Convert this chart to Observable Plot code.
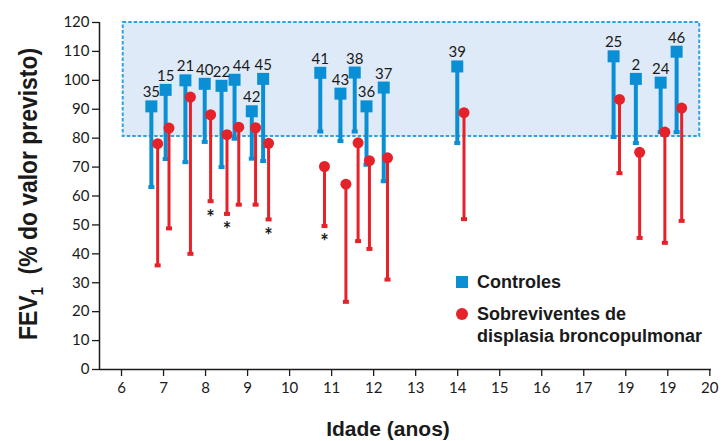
<!DOCTYPE html>
<html>
<head>
<meta charset="utf-8">
<script src="https://cdn.jsdelivr.net/npm/d3@7"></script>
<script src="https://cdn.jsdelivr.net/npm/@observablehq/plot@0.6"></script>
<style>
  html, body { margin: 0; padding: 0; background: #fff; }
  #chart { width: 722px; height: 441px; }
</style>
</head>
<body>
<div id="chart"></div>
<script>
// ---- data ----
const ids      = [35, 15, 21, 40, 22, 44, 42, 45, 41, 43, 38, 36, 37, 39, 25, 2, 24, 46];
const ctrlAge  = [6.71, 7.05, 7.52, 7.98, 8.38, 8.69, 9.10, 9.37, 10.73, 11.21, 11.55, 11.83, 12.24, 13.99, 17.71, 18.24, 18.83, 19.21];
const ctrlFev  = [91.0, 96.7, 100.0, 98.8, 98.1, 100.2, 89.3, 100.5, 102.6, 95.4, 102.7, 91.0, 97.5, 104.8, 108.3, 100.5, 99.2, 109.9];
const ctrlLow  = [63.1, 72.8, 71.7, 78.7, 70.0, 79.8, 72.9, 72.1, 82.3, 79.0, 82.3, 70.8, 65.1, 78.3, 80.4, 78.3, 82.1, 82.1];
const bpdAge   = [6.86, 7.13, 7.64, 8.12, 8.51, 8.79, 9.19, 9.50, 10.83, 11.34, 11.63, 11.90, 12.33, 14.15, 17.85, 18.33, 18.93, 19.33];
const bpdFev   = [78.1, 83.5, 94.2, 88.1, 81.2, 83.8, 83.6, 78.2, 70.2, 64.1, 78.4, 72.2, 73.2, 88.8, 93.4, 75.1, 82.1, 90.4];
const bpdLow   = [36.0, 48.8, 40.0, 58.2, 53.8, 57.0, 57.0, 51.9, 49.6, 23.4, 44.4, 41.7, 31.1, 52.0, 67.9, 45.5, 43.8, 51.4];
const bpdSig   = [false, false, false, true, true, false, false, true, true, false, false, false, false, false, false, false, false, false];
const normalBand = {x1: 6.04, x2: 19.76, y1: 80.6, y2: 120};
const xTicks = [6, 7, 8, 9, 10, 11, 12, 13, 14, 15, 16, 17, 18, 19, 20];
const xTickLabels = ["6", "7", "8", "9", "10", "11", "12", "13", "14", "15", "16", "17", "19", "19", "20"];
const yTicks = [0, 10, 20, 30, 40, 50, 60, 70, 80, 90, 100, 110, 120];
const legendLabels = ["Controles", "Sobreviventes de", "displasia broncopulmonar"];

// ---- tables ----
const ctrl = ids.map((id, i) => ({id, age: ctrlAge[i], fev: ctrlFev[i], low: ctrlLow[i]}));
const bpd = ids.map((id, i) => ({id, age: bpdAge[i], fev: bpdFev[i], low: bpdLow[i], sig: bpdSig[i]}));
const tickLabelMap = new Map(xTicks.map((t, i) => [t, xTickLabels[i]]));

const BLUE = "#0a8fd4";
const RED = "#e52229";
const INK = "#1a1a1a";

const squareSym = {draw(ctx) { ctx.rect(-6, -6, 12, 12); }};
const capSym = {draw(ctx) { ctx.rect(-3, -2, 6, 4); }};

const plot = Plot.plot({
  width: 722,
  height: 441,
  marginLeft: 99,
  marginRight: 11,
  marginTop: 22,
  marginBottom: 72,
  style: {fontFamily: "Lato, 'DejaVu Sans', sans-serif", fontSize: "15px", color: INK, background: "#fff"},
  x: {domain: [5.476, 20.04]},
  y: {domain: [0, 120]},
  marks: [
    Plot.rect([normalBand], {x1: "x1", x2: "x2", y1: "y1", y2: "y2", fill: "#deeaf7", stroke: "#2ea3e2", strokeWidth: 2, strokeDasharray: "3.5,2"}),
    Plot.axisY({ticks: yTicks, tickSize: 7, tickPadding: 3, fontSize: 15, label: null, stroke: INK, strokeWidth: 1.3}),
    Plot.axisX({ticks: xTicks, tickFormat: d => tickLabelMap.get(d), tickSize: 7, tickPadding: 6, fontSize: 15, label: null, stroke: INK, strokeWidth: 1.3}),
    Plot.ruleY([0], {stroke: INK, strokeWidth: 1.5}),
    Plot.ruleX([5.476], {stroke: INK, strokeWidth: 1.5}),
    // controls
    Plot.ruleX(ctrl, {x: "age", y1: "low", y2: "fev", stroke: BLUE, strokeWidth: 4}),
    Plot.dot(ctrl, {x: "age", y: "low", symbol: capSym, fill: BLUE, stroke: "none"}),
    Plot.dot(ctrl, {x: "age", y: "fev", symbol: squareSym, fill: BLUE, stroke: "none"}),
    // bpd survivors
    Plot.ruleX(bpd, {x: "age", y1: "low", y2: "fev", stroke: RED, strokeWidth: 3}),
    Plot.dot(bpd, {x: "age", y: "low", symbol: capSym, fill: RED, stroke: "none"}),
    Plot.dot(bpd, {x: "age", y: "fev", r: 5.5, fill: RED, stroke: "none"}),
    // significance marks
    Plot.text(bpd.filter(d => d.sig), {x: "age", y: "low", text: () => "*", dy: 17, fontSize: 20, fontWeight: "bold", fill: INK, lineAnchor: "middle"}),
    // id labels
    Plot.text(ctrl.filter(d => d.id !== 44), {x: "age", y: "fev", text: d => String(d.id), dy: -9, lineAnchor: "bottom", fontSize: 15, fill: INK}),
    Plot.text(ctrl.filter(d => d.id === 44), {x: "age", y: "fev", text: d => String(d.id), dy: -9, dx: 7, lineAnchor: "bottom", fontSize: 15, fill: INK})
  ]
});

document.getElementById("chart").appendChild(plot);

// axis titles and legend (non-data decorations)
const svg = d3.select(plot);
const yt = svg.append("text")
  .attr("transform", "translate(37,194) rotate(-90)")
  .attr("text-anchor", "middle")
  .attr("font-family", "'Liberation Sans', Arial, sans-serif")
  .attr("font-weight", "bold")
  .attr("font-size", 26)
  .attr("textLength", 292)
  .attr("lengthAdjust", "spacingAndGlyphs")
  .attr("fill", INK);
yt.append("tspan").text("FEV");
yt.append("tspan").attr("font-size", 17).attr("dy", 6).text("1");
yt.append("tspan").attr("dy", -6).text("\u00a0\u00a0(% do valor previsto)");

svg.append("text")
  .attr("x", 388).attr("y", 436)
  .attr("text-anchor", "middle")
  .attr("font-family", "'Liberation Sans', Arial, sans-serif")
  .attr("font-weight", "bold")
  .attr("font-size", 21)
  .attr("fill", INK)
  .text("Idade (anos)");

const lg = svg.append("g")
  .attr("text-anchor", "start")
  .attr("font-family", "'Liberation Sans', Arial, sans-serif")
  .attr("font-weight", "bold")
  .attr("font-size", 18)
  .attr("fill", INK);
lg.append("rect").attr("x", 456).attr("y", 276).attr("width", 12).attr("height", 12).attr("fill", BLUE);
lg.append("text").attr("x", 477).attr("y", 288).text(legendLabels[0]);
lg.append("circle").attr("cx", 462).attr("cy", 314).attr("r", 6).attr("fill", RED);
lg.append("text").attr("x", 477).attr("y", 320).text(legendLabels[1]);
lg.append("text").attr("x", 477).attr("y", 342).text(legendLabels[2]);
</script>
</body>
</html>
